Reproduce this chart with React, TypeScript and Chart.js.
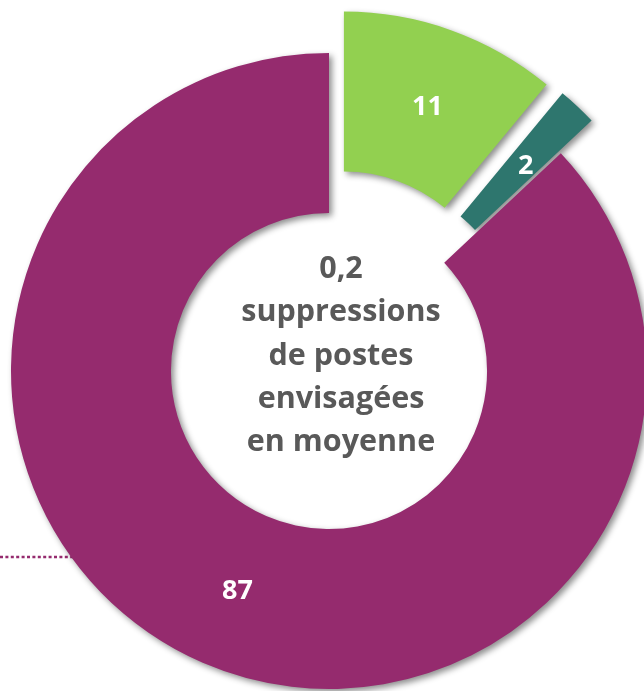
import React, { useEffect, useRef } from "react";
import { Chart, registerables } from "chart.js";

Chart.register(...registerables);

const categories = ["Groupe A", "Groupe B", "Groupe C"];
const values = [11, 2, 87];
const colors = ["#92D050", "#2E766E", "#952B6E"];
const explode = [44, 45, 0];
const centerLines = ["0,2", "suppressions", "de postes", "envisagées", "en moyenne"];

const FONT = "'Open Sans', Lato, sans-serif";

const drawPlugin = {
  id: "customDraw",
  beforeDatasetsDraw(chart: any) {
    const ctx = chart.ctx;
    const meta = chart.getDatasetMeta(0);
    // dotted leader line (behind the ring)
    ctx.save();
    ctx.strokeStyle = colors[2];
    ctx.lineWidth = 2.5;
    ctx.setLineDash([3, 2.4]);
    ctx.beginPath();
    ctx.moveTo(0, 557);
    ctx.lineTo(95, 557);
    ctx.stroke();
    ctx.restore();
    meta.data.forEach((arc: any, i: number) => {
      const a = (arc.startAngle + arc.endAngle) / 2;
      const d = explode[i];
      ctx.save();
      ctx.shadowColor = "rgba(0,0,0,0.45)";
      ctx.shadowBlur = 6;
      ctx.shadowOffsetX = 3;
      ctx.shadowOffsetY = 3;
      ctx.translate(Math.cos(a) * d, Math.sin(a) * d);
      arc.draw(ctx, chart.chartArea);
      ctx.restore();
    });
    return false;
  },
  afterDraw(chart: any) {
    const ctx = chart.ctx;
    const meta = chart.getDatasetMeta(0);
    ctx.save();
    ctx.textAlign = "center";
    ctx.textBaseline = "middle";
    ctx.fillStyle = "#FFFFFF";
    ctx.font = `bold 27px ${FONT}`;
    let cx = 0, cy = 0;
    meta.data.forEach((arc: any, i: number) => {
      const a = (arc.startAngle + arc.endAngle) / 2;
      const r = (arc.innerRadius + arc.outerRadius) / 2 + explode[i];
      cx = arc.x; cy = arc.y;
      ctx.fillText(String(values[i]), arc.x + Math.cos(a) * r + 3, arc.y + Math.sin(a) * r + 2);
    });
    ctx.fillStyle = "#595959";
    ctx.font = `bold 30.5px ${FONT}`;
    ctx.textBaseline = "alphabetic";
    const lh = 43.3;
    const first = cy - 93;
    centerLines.forEach((t, k) => {
      ctx.fillText(t, cx + 12, first + k * lh);
    });
    ctx.restore();
  },
};

export default function App() {
  const ref = useRef<HTMLCanvasElement | null>(null);
  useEffect(() => {
    if (!ref.current) return;
    const chart = new Chart(ref.current, {
      type: "doughnut",
      data: {
        labels: categories,
        datasets: [
          {
            data: values,
            backgroundColor: colors,
            borderWidth: 0,
            radius: 318,
            cutout: "49.7%",
          } as any,
        ],
      },
      options: {
        responsive: false,
        animation: false,
        events: [],
        layout: { padding: { left: 14, top: 51, right: 0, bottom: 0 } },
        plugins: {
          legend: { display: false },
          tooltip: { enabled: false },
        },
      } as any,
      plugins: [drawPlugin],
    });
    return () => chart.destroy();
  }, []);
  return (
    <div style={{ position: "absolute", left: 0, top: 0, width: 644, height: 691, overflow: "hidden", background: "#fff" }}>
      <canvas ref={ref} width={644} height={691} style={{ width: 644, height: 691, display: "block" }} />
    </div>
  );
}
